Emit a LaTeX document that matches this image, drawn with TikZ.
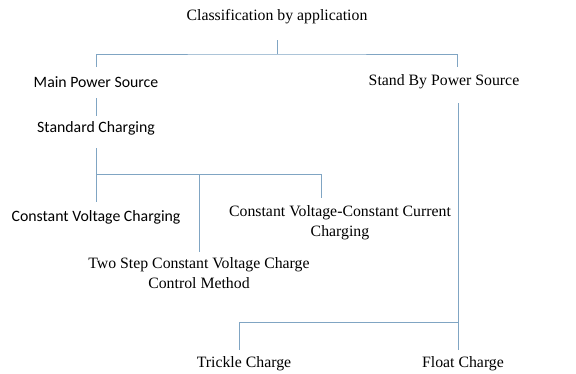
\documentclass[tikz,border=0pt]{standalone}
\usepackage{fontspec}
\setmainfont{Liberation Serif}
\newfontfamily\calfont{Carlito}
\usetikzlibrary{calc}

\definecolor{linkblue}{RGB}{128,165,195}

\begin{document}
\begin{tikzpicture}[x=1pt,y=-1pt,-,line width=.7pt,
    serif/.style={inner sep=0pt,font=\fontsize{15.8}{20}\selectfont,align=center},
    sans/.style={inner sep=0pt,font=\calfont\fontsize{15.8}{20}\selectfont,align=center},
    link/.style={draw=linkblue}]
          \useasboundingbox (0,0) rectangle (576,373);

          \node [serif] (cls) at (277, 17) {Classification by application};
          \node [sans] (main) at (96, 82) {Main Power Source};
          \node [serif] (stby) at (444, 82) {Stand By Power Source};
          \node [sans] (std) at (96, 128) {Standard Charging};
          \node [sans] (cvc) at (96, 217) {Constant Voltage Charging};
          \node [serif] (cvcc) at (340, 223) {Constant Voltage-Constant Current\\Charging};
          \node [serif] (two) at (199, 273) {Two Step Constant Voltage Charge\\Control Method};
          \node [serif] (trickle) at (244, 364) {Trickle Charge};
          \node [serif] (float) at (463, 364) {Float Charge};

          % junction points
          \coordinate (clsb) at (277, 40);
          \coordinate (j1) at (277, 54);
          \coordinate (mainT) at (96, 67);
          \coordinate (stbyT) at (457, 67);
          \coordinate (mainB) at (96, 98);
          \coordinate (stdT) at (96, 116);
          \coordinate (stdB) at (96, 148);
          \coordinate (j2) at (96, 174);
          \coordinate (cvcT) at (96, 202);
          \coordinate (twoT) at (199, 252);
          \coordinate (cvccT) at (321, 198);
          \coordinate (stbyB) at (458, 103);
          \coordinate (j3) at (458, 322);
          \coordinate (floatT) at (458, 350);
          \coordinate (trickleT) at (239, 350);

          \draw [link] (clsb) -- (j1);
          \draw [link] (mainT) |- (j1) -| (stbyT);
          \draw [link] (mainB) -- (stdT);
          \draw [link] (stdB) -- (cvcT);
          \draw [link] (j2) -| (twoT);
          \draw [link] (j2) -| (cvccT);
          \draw [link] (stbyB) -- (floatT);
          \draw [link] (j3) -| (trickleT);

      \end{tikzpicture}
\end{document}
